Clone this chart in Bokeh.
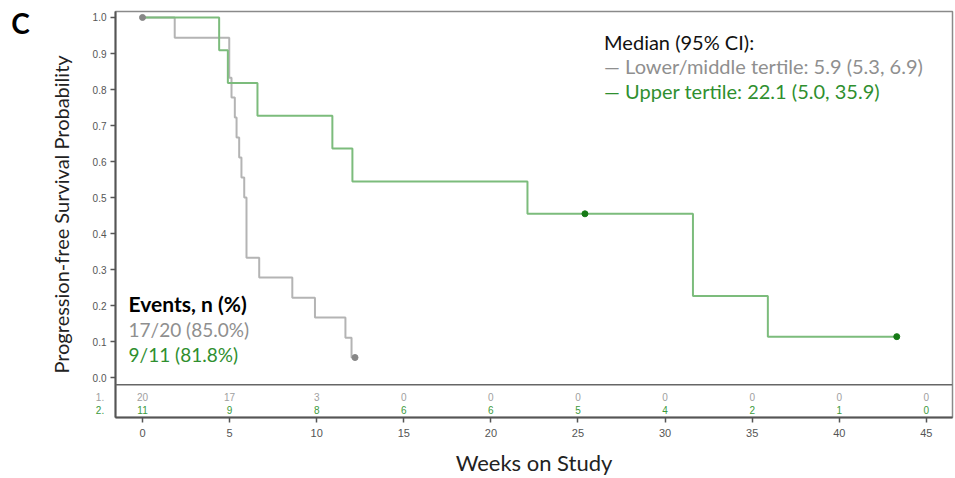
from bokeh.plotting import figure
from bokeh.models import FixedTicker, NumeralTickFormatter, Span, Range1d
from bokeh.core.properties import value
from bokeh.embed import file_html
from bokeh.resources import INLINE

# ---- data ----
gray_t = [0, 1.85, 4.98, 5.11, 5.30, 5.40, 5.55, 5.68, 5.84, 5.97, 6.7, 8.6, 9.9, 11.65, 12.0, 12.2]
gray_s = [1.0, 0.944, 0.833, 0.778, 0.722, 0.667, 0.611, 0.556, 0.500, 0.333, 0.278, 0.222, 0.167, 0.111, 0.056, 0.056]
gray_cens_t = [0, 12.2]
gray_cens_s = [1.0, 0.056]

green_t = [0, 4.4, 4.9, 6.6, 10.9, 12.05, 22.1, 31.6, 35.9, 43.3]
green_s = [1.0, 0.909, 0.818, 0.727, 0.636, 0.545, 0.455, 0.227, 0.114, 0.114]
green_cens_t = [25.4, 43.3]
green_cens_s = [0.455, 0.114]

risk_times = [0, 5, 10, 15, 20, 25, 30, 35, 40, 45]
risk_lower = [20, 17, 3, 0, 0, 0, 0, 0, 0, 0]
risk_upper = [11, 9, 8, 6, 6, 5, 4, 2, 1, 0]
risk_row_labels = ["1.", "2."]
y_ticks = [0.0, 0.1, 0.2, 0.3, 0.4, 0.5, 0.6, 0.7, 0.8, 0.9, 1.0]

legend_title = "Median (95% CI):"
legend_lower = "\u2014 Lower/middle tertile: 5.9 (5.3, 6.9)"
legend_upper = "\u2014 Upper tertile: 22.1 (5.0, 35.9)"
events_title = "Events, n (%)"
events_lower = "17/20 (85.0%)"
events_upper = "9/11 (81.8%)"
panel_letter = "C"

GRAY_LINE = "#b4b4b4"
GRAY_DOT = "#878787"
GRAY_TXT = "#8f8f8f"
GREEN_LINE = "#7cbc7c"
GREEN_DOT = "#167a16"
GREEN_TXT = "#2f8f2f"
FONT = "Lato"

p = figure(width=955, height=478, output_backend="svg", toolbar_location=None,
           x_range=Range1d(-1.55, 46.5), y_range=Range1d(-0.1105, 1.0166),
           min_border_left=115, min_border_right=3, min_border_top=11, min_border_bottom=59)

p.xgrid.visible = False
p.ygrid.visible = False
p.outline_line_color = "#8a8a8a"
p.outline_line_width = 1.5
p.background_fill_color = "white"
p.border_fill_color = "white"

for ax in (p.xaxis[0], p.yaxis[0]):
    ax.axis_line_color = "#555555"
    ax.axis_line_width = 2
    ax.major_tick_line_color = "#555555"
    ax.major_tick_line_width = 1.5
    ax.major_tick_out = 5
    ax.major_tick_in = 0
    ax.minor_tick_line_color = None
    ax.major_label_text_font = "Liberation Sans"
    ax.major_label_text_color = "#555555"
    ax.axis_label_text_font = FONT
    ax.axis_label_text_font_style = "normal"
    ax.axis_label_text_color = "#222222"

p.xaxis.ticker = FixedTicker(ticks=risk_times)
p.yaxis.ticker = FixedTicker(ticks=y_ticks)
p.yaxis.formatter = NumeralTickFormatter(format="0.0")
p.xaxis.major_label_text_font_size = "11px"
p.yaxis.major_label_text_font_size = "10px"
p.xaxis.major_label_standoff = 6
p.yaxis.major_label_standoff = 4
p.xaxis.axis_label = "Weeks on Study"
p.xaxis.axis_label_text_font_size = "22px"
p.xaxis.axis_label_standoff = 9
p.yaxis.axis_label = "Progression-free Survival Probability"
p.yaxis.axis_label_text_font_size = "20px"
p.yaxis.axis_label_standoff = 17

# separator between plot and at-risk table
p.add_layout(Span(location=-0.0193, dimension="width", line_color="#666666", line_width=1.5))

# curves
p.step(gray_t, gray_s, mode="after", line_color=GRAY_LINE, line_width=2)
p.step(green_t, green_s, mode="after", line_color=GREEN_LINE, line_width=2)
p.scatter(gray_cens_t, gray_cens_s, size=6, fill_color=GRAY_DOT, line_color=GRAY_DOT)
p.scatter(green_cens_t, green_cens_s, size=6, fill_color=GREEN_DOT, line_color=GREEN_DOT)

# at-risk table
p.text(x=risk_times, y=[-0.0525] * len(risk_times), text=[str(v) for v in risk_lower],
       text_align="center", text_baseline="middle", text_font=value("Liberation Sans"),
       text_font_size="10px", text_color="#a0a0a0")
p.text(x=risk_times, y=[-0.091] * len(risk_times), text=[str(v) for v in risk_upper],
       text_align="center", text_baseline="middle", text_font=value("Liberation Sans"),
       text_font_size="10px", text_color="#3c9a3c")

# row labels left of the axis (outside the frame -> overlay level)
p.text(x=[-2.2], y=[-0.0525], text=[risk_row_labels[0]], text_align="right",
       text_baseline="middle", text_font=value("Liberation Sans"), text_font_size="10px",
       text_color="#a0a0a0", level="overlay")
p.text(x=[-2.2], y=[-0.091], text=[risk_row_labels[1]], text_align="right",
       text_baseline="middle", text_font=value("Liberation Sans"), text_font_size="10px",
       text_color="#3c9a3c", level="overlay")

# panel letter
p.text(x=[-7.0], y=[0.986], text=[panel_letter], text_align="center", text_baseline="middle",
       text_font=value(FONT), text_font_style="bold", text_font_size="28px",
       text_color="black", level="overlay")

# legend (median)
p.text(x=[26.5], y=[0.931], text=[legend_title], text_align="left", text_baseline="middle",
       text_font=value(FONT), text_font_size="20px", text_color="#111111")
p.text(x=[26.5], y=[0.865], text=[legend_lower], text_align="left", text_baseline="middle",
       text_font=value(FONT), text_font_size="20px", text_color=GRAY_TXT)
p.text(x=[26.5], y=[0.796], text=[legend_upper], text_align="left", text_baseline="middle",
       text_font=value(FONT), text_font_size="20px", text_color=GREEN_TXT)

# events block
p.text(x=[-0.8], y=[0.207], text=[events_title], text_align="left", text_baseline="middle",
       text_font=value(FONT), text_font_style="bold", text_font_size="21px", text_color="black")
p.text(x=[-0.8], y=[0.135], text=[events_lower], text_align="left", text_baseline="middle",
       text_font=value(FONT), text_font_size="19px", text_color=GRAY_TXT)
p.text(x=[-0.8], y=[0.0635], text=[events_upper], text_align="left", text_baseline="middle",
       text_font=value(FONT), text_font_size="19px", text_color=GREEN_TXT)

open("out.html", "w").write(file_html(p, INLINE))
